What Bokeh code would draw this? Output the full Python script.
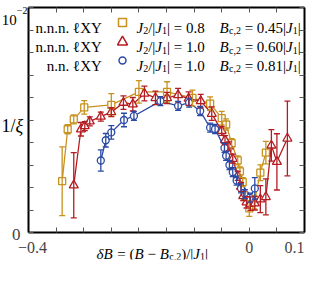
from bokeh.plotting import figure
from bokeh.models import (ColumnDataSource, Whisker, Label, LinearAxis, FixedTicker, Range1d)
from bokeh.embed import file_html
from bokeh.resources import INLINE

# ---------------- data ----------------
# n.n.n. lXY, J2/|J1| = 0.8, Bc2 = 0.45|J1|
ox = [-0.339, -0.329, -0.318, -0.299, -0.250, -0.200, -0.149, -0.103, -0.071, -0.050,
      -0.042, -0.032, -0.021, -0.017, -0.012, -0.008, 0.000, 0.009, 0.020, 0.030]
oy = [0.00228, 0.00459, 0.00503, 0.00556, 0.00567, 0.00625, 0.00625, 0.00598, 0.00573, 0.00508,
      0.00480, 0.00397, 0.00321, 0.00272, 0.00224, 0.00162, 0.00107, 0.00135, 0.00266, 0.00355]
oe = [0.00153, 0.0002, 0.0002, 0.0003, 0.0005, 0.0005, 0.00045, 0.00035, 0.0003, 0.0003,
      0.00025, 0.0002, 0.0002, 0.0002, 0.0002, 0.0002, 0.00035, 0.0003, 0.00035, 0.0005]

# n.n.n. lXY, J2/|J1| = 1.0, Bc2 = 0.60|J1|
rx = [-0.318, -0.305, -0.298, -0.289, -0.269, -0.250, -0.228, -0.211, -0.190, -0.170,
      -0.149, -0.129, -0.110, -0.088, -0.068, -0.050, -0.044, -0.037, -0.030, -0.021,
      -0.015, -0.011, -0.005, 0.002, 0.010, 0.020, 0.030, 0.040, 0.050, 0.069]
ry = [0.00210, 0.00459, 0.00473, 0.00494, 0.00515, 0.00535, 0.00577, 0.00570, 0.00618, 0.00598,
      0.00598, 0.00611, 0.00595, 0.00584, 0.00528, 0.00452, 0.00411, 0.00383, 0.00328, 0.00252,
      0.00203, 0.00162, 0.00134, 0.00128, 0.00130, 0.00148, 0.00158, 0.00387, 0.00314, 0.00418]
re_ = [0.00145, 0.0003, 0.0002, 0.0002, 0.0002, 0.0002, 0.0003, 0.0003, 0.00033, 0.0003,
       0.00025, 0.0003, 0.0003, 0.0003, 0.0003, 0.0002, 0.0002, 0.0002, 0.0002, 0.0002,
       0.0002, 0.0002, 0.00025, 0.0003, 0.0003, 0.0006, 0.0008, 0.0007, 0.00125, 0.00166]

# n.n. lXY, J2/|J1| = 1.0, Bc2 = 0.81|J1|
bx = [-0.269, -0.260, -0.250, -0.227, -0.209, -0.161, -0.129, -0.109, -0.089, -0.071,
      -0.062, -0.045, -0.042, -0.036, -0.030, -0.023, -0.015, -0.008, 0.001, 0.010]
by = [0.00320, 0.00410, 0.00445, 0.00500, 0.00518, 0.00584, 0.00563, 0.00577, 0.00540, 0.00466,
      0.00460, 0.00376, 0.00341, 0.00300, 0.00268, 0.00231, 0.00196, 0.00171, 0.00155, 0.00196]
be = [0.00047, 0.0003, 0.0003, 0.0003, 0.0002, 0.0002, 0.0002, 0.0002, 0.0002, 0.0002,
      0.0002, 0.0002, 0.0002, 0.0002, 0.0002, 0.0002, 0.0002, 0.0002, 0.0002, 0.00048]

legend_left = ["n.n.n. ℓXY", "n.n.n. ℓXY", "n.n. ℓXY"]
legend_j2 = ["0.8", "1.0", "1.0"]
legend_bc = ["0.45", "0.60", "0.81"]

x_ticks = [round(-0.4 + 0.05 * i, 2) for i in range(11)]
x_tick_values = [-0.4, 0.0, 0.1]
x_tick_text = ["−0.4", "0", "0.1"]
y_ticks = [round(0.001 * i, 3) for i in range(11)]

ORANGE = "#c8921e"
RED = "#b41c22"
BLUE = "#2b4aa4"
FONT = "Liberation Serif"

# ---------------- figure ----------------
W_FIG, H_FIG = 316, 269
MB_R, MB_B = 10, 10          # fixed borders on right / bottom
FL, FR, FT, FB = 36, 312, 15, 240  # plot box edges in page pixels
XMIN, XMAX, YMIN, YMAX = -0.4, 0.1, 0.0, 0.01
sx = (XMAX - XMIN) / (FR - FL)
sy = (YMAX - YMIN) / (FB - FT)
frame_r = 8 + W_FIG - MB_R
frame_b = 8 + H_FIG - MB_B
x_range = Range1d(XMIN - (FL - 8) * sx, XMAX + (frame_r - FR) * sx)
y_range = Range1d(YMIN - (frame_b - FB) * sy, YMAX + (FT - 8) * sy)

p = figure(width=W_FIG, height=H_FIG, output_backend="svg", toolbar_location=None,
           x_range=x_range, y_range=y_range,
           x_axis_location=None, y_axis_location=None)
p.min_border = 0
p.min_border_left = 0
p.min_border_right = MB_R
p.min_border_top = 0
p.min_border_bottom = MB_B
p.grid.visible = False
p.outline_line_color = None
p.background_fill_color = "white"
p.border_fill_color = "white"


def X(px):
    return XMIN + (px - FL) * sx


def Y(py):
    return YMIN + (FB - py) * sy


def make_axis(ticks, loc, bounds):
    ax = LinearAxis(ticker=FixedTicker(ticks=ticks), fixed_location=loc, bounds=bounds)
    ax.axis_line_color = "black"
    ax.axis_line_width = 2
    ax.major_tick_in = 5
    ax.major_tick_out = 0
    ax.major_tick_line_color = "#555555"
    ax.major_tick_line_width = 1
    ax.minor_tick_line_color = None
    ax.major_label_overrides = {t: "" for t in ticks}
    ax.major_label_text_font_size = "0px"
    ax.major_label_standoff = 0
    ax.axis_label_standoff = 0
    ax.axis_label_text_font_size = "0px"
    return ax


p.add_layout(make_axis(x_ticks, YMIN, (XMIN, XMAX)), "below")
p.add_layout(make_axis(x_ticks, YMAX, (XMIN, XMAX)), "above")
p.add_layout(make_axis(y_ticks, XMIN, (YMIN, YMAX)), "left")
p.add_layout(make_axis(y_ticks, XMAX, (YMIN, YMAX)), "right")

# ---------------- series ----------------
def series(xs, ys, es, color, marker, size):
    lo = [y - e for y, e in zip(ys, es)]
    hi = [y + e for y, e in zip(ys, es)]
    src = ColumnDataSource(dict(x=xs, y=ys, lo=lo, hi=hi))
    w = Whisker(source=src, base="x", lower="lo", upper="hi", dimension="height",
                line_color=color, line_width=1.3, level="glyph")
    for h in (w.upper_head, w.lower_head):
        h.size = 6
        h.line_color = color
        h.line_width = 1.3
    p.add_layout(w)
    p.line("x", "y", source=src, line_color=color, line_width=1.3)
    p.scatter("x", "y", source=src, marker=marker, size=size, line_color=color,
              fill_color="white", line_width=1.3)


series(ox, oy, oe, ORANGE, "square", 7)
series(rx, ry, re_, RED, "triangle", 9)
series(bx, by, be, BLUE, "circle", 7)

# ---------------- text helpers ----------------
CW = {' ': 0.25, '(': 0.333, ')': 0.333, '/': 0.278, '|': 0.2, '=': 0.564, '−': 0.564,
      '.': 0.25, ',': 0.25, 'n': 0.5, 'X': 0.722, 'Y': 0.722, 'ℓ': 0.45, 'c': 0.444,
      'B': 0.63, 'J': 0.444, 'δ': 0.5, 'ξ': 0.46}
NBSP = "\u00a0"


def tw(s, size):
    return sum(CW.get(ch, 0.5) for ch in s) * size


def runs(x0, ybase, parts, align="left"):
    total = sum(tw(t, sz) for t, it, sz, dy in parts)
    x = x0 - total if align == "right" else x0
    for t, it, sz, dy in parts:
        p.add_layout(Label(x=X(x), y=Y(ybase + dy), text=t.replace(" ", NBSP),
                           text_font=FONT,
                           text_font_style="italic" if it else "normal",
                           text_font_size=f"{sz}px", text_baseline="alphabetic",
                           text_align="left", text_color="black"))
        x += tw(t, sz)


# x tick labels (placed at their tick values)
aligns = ["center", "center", "right"]
offs = [4, 0, 0]
for v, t, a, o in zip(x_tick_values, x_tick_text, aligns, offs):
    p.add_layout(Label(x=v, y=Y(255), x_offset=o, text=t, text_font=FONT,
                       text_font_size="16px", text_align=a, text_baseline="alphabetic"))

# y tick labels
p.add_layout(Label(x=XMIN, y=Y(242), x_offset=-8, text="0", text_font=FONT,
                   text_font_size="17px", text_align="right", text_baseline="alphabetic"))
runs(35, 27, [("10", False, 15, 0), ("−2", False, 10, -9)], align="right")

# axis titles
runs(9, 133, [("1/", False, 18, 0), ("ξ", True, 18, 0)])
runs(104, 261, [("δB", True, 15, 0), (" = (", False, 15, 0), ("B", True, 15, 0),
                (" − ", False, 15, 0), ("B", True, 15, 0), ("c,2", False, 10, 3),
                (")/|", False, 15, 0), ("J", True, 15, 0), ("1", False, 10, 3),
                ("|", False, 15, 0)])

# legend
rows_y = [30, 49.5, 68]
markers = [("square", ORANGE, 8), ("triangle", RED, 10), ("circle", BLUE, 7)]
for i in range(3):
    yb = rows_y[i] + 5
    runs(109, yb, [(legend_left[i], False, 15, 0)], align="right")
    m, c, s = markers[i]
    p.scatter(x=[X(130)], y=[Y(rows_y[i])], marker=m, size=s, line_color=c,
              fill_color="white", line_width=1.5)
    runs(144, yb, [("J", True, 15, 0), ("2", False, 10, 3), ("/|", False, 15, 0),
                   ("J", True, 15, 0), ("1", False, 10, 3),
                   ("| = " + legend_j2[i], False, 15, 0)])
    runs(227, yb, [("B", True, 15, 0), ("c,2", False, 10, 3),
                   (" = " + legend_bc[i] + "|", False, 15, 0), ("J", True, 15, 0),
                   ("1", False, 10, 3), ("|", False, 15, 0)])

open("out.html", "w").write(file_html(p, INLINE))
